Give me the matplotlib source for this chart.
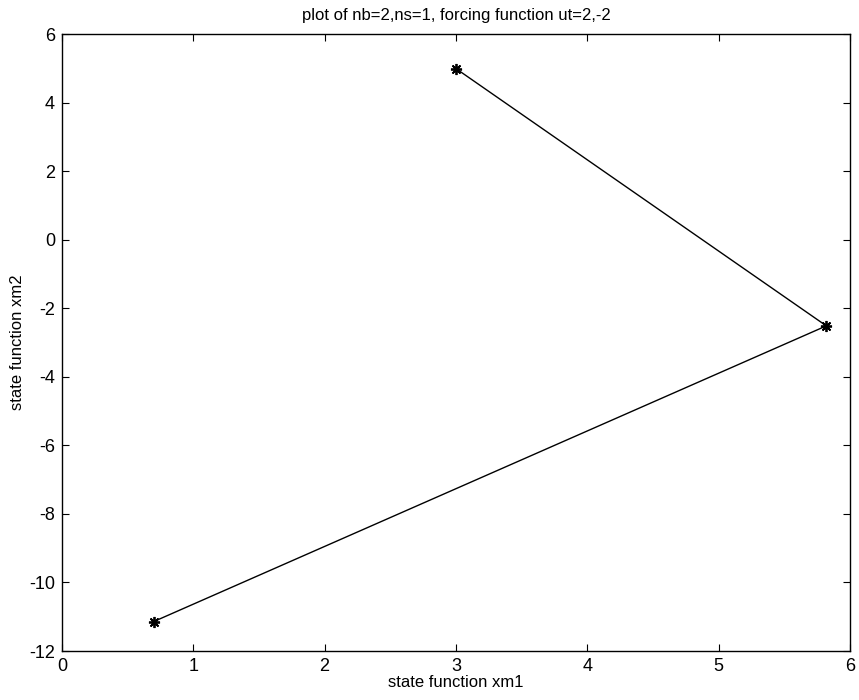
import matplotlib
matplotlib.use("Agg")
import matplotlib.pyplot as plt

plt.rcParams["font.family"] = ["Liberation Sans", "DejaVu Sans"]
plt.rcParams["axes.unicode_minus"] = False

xm1 = [3.0, 5.82, 0.70]
xm2 = [5.0, -2.51, -11.14]
xticks = [0, 1, 2, 3, 4, 5, 6]
yticks = [6, 4, 2, 0, -2, -4, -6, -8, -10, -12]

fig = plt.figure(figsize=(8.59, 7.0), dpi=100)
ax = fig.add_axes([0.072, 0.07, 0.9175, 0.881])
ax.plot(xm1, xm2, color="black", lw=1.0, marker=(8, 2, 0), markersize=8, markeredgewidth=1.3)
ax.set_xlim(0, 6)
ax.set_ylim(-12, 6)
ax.set_xticks(xticks)
ax.set_yticks(yticks)
ax.tick_params(direction="in", length=5, labelsize=13, top=True, right=True, width=0.8, pad=5)
for s in ax.spines.values():
    s.set_linewidth(1.0)
ax.set_xlabel("state function xm1", fontsize=12, labelpad=0)
ax.set_ylabel("state function xm2", fontsize=12, labelpad=3)
ax.set_title("plot of nb=2,ns=1, forcing function ut=2,-2", fontsize=12, pad=10)
fig.savefig("out.png", dpi=100)
